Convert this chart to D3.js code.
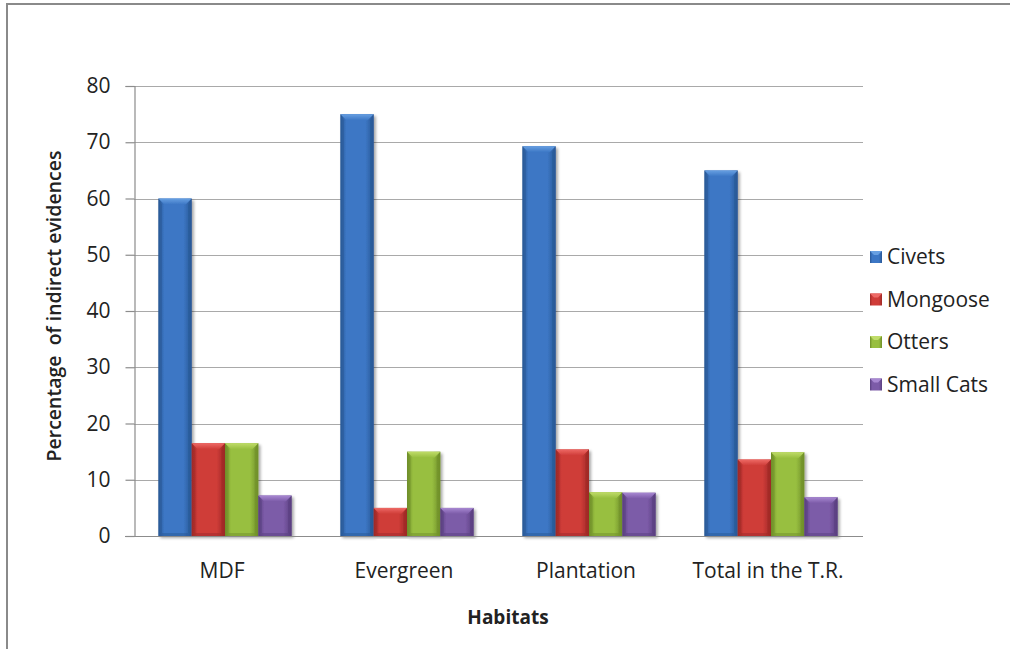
<!DOCTYPE html>
<html>
<head>
<meta charset="utf-8">
<script src="https://cdn.jsdelivr.net/npm/d3@7"></script>
<style>
  html, body { margin: 0; padding: 0; background: #fff; overflow: hidden; }
  svg { display: block; }
  text { font-family: "Open Sans", "DejaVu Sans", sans-serif; fill: #222; }
</style>
</head>
<body>
<svg id="chart" width="1010" height="649"></svg>
<script>
// Habitat categories and the four carnivore groups
const categories = ["MDF", "Evergreen", "Plantation", "Total in the T.R."];
const seriesNames = ["Civets", "Mongoose", "Otters", "Small Cats"];

// Percentage of indirect evidences per habitat
const civets    = [60, 75, 69.3, 65];
const mongoose  = [16.5, 5, 15.4, 13.6];
const otters    = [16.5, 15, 7.8, 14.9];
const smallCats = [7.2, 5, 7.7, 6.9];

const yTicks = [0, 10, 20, 30, 40, 50, 60, 70, 80];

const seriesValues = [civets, mongoose, otters, smallCats];

// Fill colours per series: body, dark edge, light bevel
const palette = [
  { body: "#3c77c5", edge: "#2a5896", light: "#68a0e2" },
  { body: "#cf3c38", edge: "#9e2a27", light: "#ee6a66" },
  { body: "#98bf40", edge: "#6f8f2a", light: "#c0dc6a" },
  { body: "#7c5ba8", edge: "#5a4080", light: "#a888d2" }
];

const svg = d3.select("#chart");
const defs = svg.append("defs");

// Frame edges of the chart area (left and top), drawn as thin filled strips
svg.append("rect").attr("x", 6).attr("y", 3).attr("width", 2).attr("height", 646)
  .attr("fill", "#8a8a8a");
svg.append("rect").attr("x", 6).attr("y", 3).attr("width", 1004).attr("height", 2)
  .attr("fill", "#8a8a8a");

const plot = { left: 134, right: 862, top: 86, bottom: 536 };

const y = d3.scaleLinear().domain([0, 80]).range([plot.bottom, plot.top]);
const x0 = d3.scaleBand().domain(categories)
  .range([plot.left, plot.right]).paddingInner(0.268).paddingOuter(0.134);
const x1 = d3.scaleBand().domain(seriesNames).range([0, x0.bandwidth()]);

// Gradients giving each bar a rounded, bevelled look
palette.forEach((c, i) => {
  const g = defs.append("linearGradient").attr("id", "bar" + i)
    .attr("x1", "0").attr("x2", "1").attr("y1", "0").attr("y2", "0");
  g.append("stop").attr("offset", "0").attr("stop-color", c.edge);
  g.append("stop").attr("offset", "0.18").attr("stop-color", c.body);
  g.append("stop").attr("offset", "0.75").attr("stop-color", c.body);
  g.append("stop").attr("offset", "1").attr("stop-color", c.edge);
  const t = defs.append("linearGradient").attr("id", "top" + i)
    .attr("x1", "0").attr("x2", "0").attr("y1", "0").attr("y2", "1");
  t.append("stop").attr("offset", "0").attr("stop-color", c.light);
  t.append("stop").attr("offset", "1").attr("stop-color", c.body);
});

const shadow = defs.append("filter").attr("id", "shadow")
  .attr("x", "-20%").attr("y", "-5%").attr("width", "150%").attr("height", "115%");
shadow.append("feGaussianBlur").attr("in", "SourceAlpha").attr("stdDeviation", 1.6);
shadow.append("feOffset").attr("dx", 2).attr("dy", 1.5).attr("result", "b");
shadow.append("feComponentTransfer").append("feFuncA").attr("type", "linear").attr("slope", 0.35);
const merge = shadow.append("feMerge");
merge.append("feMergeNode");
merge.append("feMergeNode").attr("in", "SourceGraphic");

// Horizontal gridlines
svg.append("g").selectAll("line").data(yTicks.filter(d => d > 0)).join("line")
  .attr("x1", plot.left).attr("x2", plot.right + 1)
  .attr("y1", d => Math.round(y(d)) + 0.5).attr("y2", d => Math.round(y(d)) + 0.5)
  .attr("stroke", "#a9a9a9").attr("stroke-width", 1.2);

// Y axis
const yAxis = svg.append("g")
  .attr("transform", `translate(${plot.left + 0.5},0)`)
  .call(d3.axisLeft(y).tickValues(yTicks).tickSize(9).tickPadding(15));
yAxis.select(".domain").attr("stroke", "#8c8c8c").attr("stroke-width", 1.2);
yAxis.selectAll(".tick line").attr("stroke", "#8c8c8c").attr("stroke-width", 1.2);
yAxis.selectAll(".tick text").style("font-size", "21px").attr("fill", "#222")
  .attr("font-family", null);

// Bars
const groups = svg.append("g").selectAll("g").data(categories).join("g")
  .attr("transform", d => `translate(${x0(d)},0)`);

groups.each(function (cat, ci) {
  const g = d3.select(this);
  seriesNames.forEach((s, si) => {
    const v = seriesValues[si][ci];
    const bx = x1(s), bw = x1.bandwidth();
    const top = y(v), h = y(0) - y(v);
    const b = Math.min(6, h / 2);
    const bar = g.append("g").attr("filter", "url(#shadow)");
    bar.append("rect")
      .attr("x", bx).attr("y", top).attr("width", bw).attr("height", h)
      .attr("fill", `url(#bar${si})`);
    // top bevel
    bar.append("path")
      .attr("d", `M${bx},${top}L${bx + bw},${top}L${bx + bw - b},${top + b}L${bx + b},${top + b}Z`)
      .attr("fill", `url(#top${si})`);
    // side bevels
    bar.append("path")
      .attr("d", `M${bx},${top}L${bx + b * 0.6},${top + b}L${bx + b * 0.6},${top + h - b * 0.5}L${bx},${top + h}Z`)
      .attr("fill", palette[si].edge).attr("opacity", 0.45);
    bar.append("path")
      .attr("d", `M${bx + bw},${top}L${bx + bw - b * 0.6},${top + b}L${bx + bw - b * 0.6},${top + h - b * 0.5}L${bx + bw},${top + h}Z`)
      .attr("fill", palette[si].edge).attr("opacity", 0.6);
    // bottom bevel
    bar.append("path")
      .attr("d", `M${bx},${top + h}L${bx + b * 0.6},${top + h - b * 0.5}L${bx + bw - b * 0.6},${top + h - b * 0.5}L${bx + bw},${top + h}Z`)
      .attr("fill", palette[si].edge).attr("opacity", 0.5);
  });
});

// X axis
const xAxis = svg.append("g")
  .attr("transform", `translate(0,${plot.bottom + 0.5})`)
  .call(d3.axisBottom(x0).tickSize(0).tickPadding(27));
xAxis.select(".domain").attr("d", `M${plot.left - 9},0H${plot.right + 1}`)
  .attr("stroke", "#8c8c8c").attr("stroke-width", 1.2);
xAxis.selectAll(".tick text").style("font-size", "21px").attr("fill", "#222")
  .attr("font-family", null).attr("dx", -3);

// Axis titles
svg.append("text")
  .attr("transform", "translate(61,306) rotate(-90)")
  .attr("text-anchor", "middle")
  .style("font-size", "19.5px").style("font-weight", "600")
  .style("white-space", "pre").attr("xml:space", "preserve")
  .text("Percentage  of indirect evidences");

svg.append("text")
  .attr("x", 508).attr("y", 624)
  .attr("text-anchor", "middle")
  .style("font-size", "19px").style("font-weight", "700")
  .text("Habitats");

// Legend
const legend = svg.append("g").attr("transform", "translate(870,257)");
const items = legend.selectAll("g").data(seriesNames).join("g")
  .attr("transform", (d, i) => `translate(0,${i * 42.5})`);
items.append("rect")
  .attr("x", 0).attr("y", -6).attr("width", 12).attr("height", 12)
  .attr("fill", (d, i) => `url(#bar${i})`);
items.append("path")
  .attr("d", "M0,-6L12,-6L8,-2L4,-2Z")
  .attr("fill", (d, i) => palette[i].light);
items.append("text")
  .attr("x", 17).attr("dy", "0.35em")
  .style("font-size", "21px")
  .text(d => d);
</script>
</body>
</html>
